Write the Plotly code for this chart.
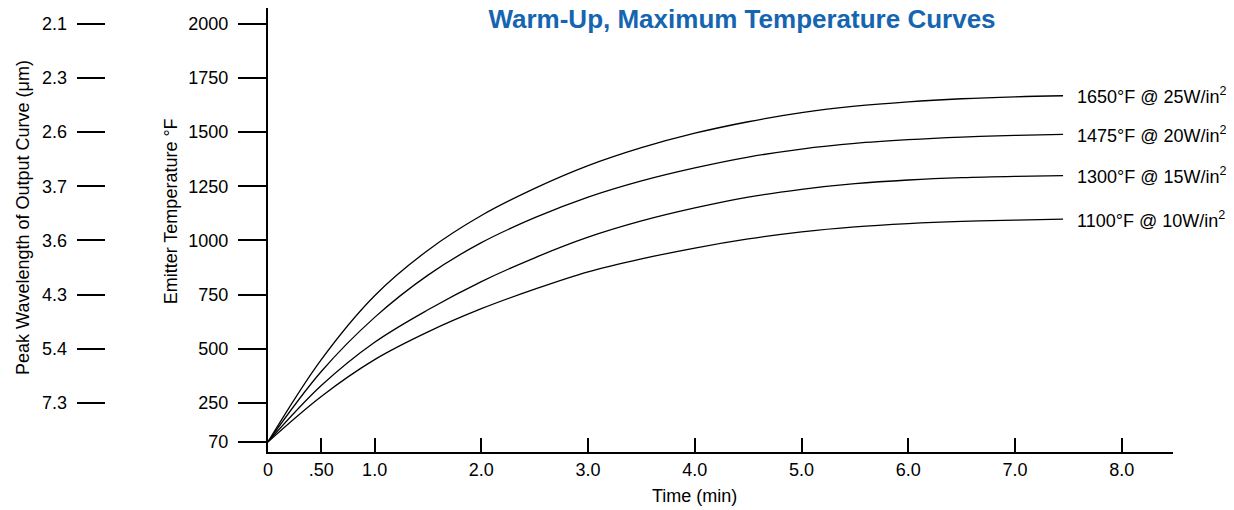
import plotly.graph_objects as go

# time (min)
time_min = [0, 0.5, 1.0, 1.5, 2.0, 2.5, 3.0, 3.5, 4.0, 4.5, 5.0, 5.5, 6.0, 6.5, 7.0, 7.45]

# emitter temperature (F)
temp_25w = [70, 450, 745, 955, 1115, 1240, 1345, 1428, 1495, 1548, 1590, 1620, 1640, 1654, 1663, 1668]
temp_20w = [70, 395, 645, 840, 990, 1105, 1200, 1275, 1335, 1385, 1422, 1448, 1465, 1477, 1485, 1490]
temp_15w = [70, 330, 530, 680, 810, 920, 1015, 1090, 1150, 1200, 1236, 1262, 1279, 1290, 1296, 1299]
temp_10w = [70, 280, 450, 578, 685, 775, 855, 915, 965, 1007, 1040, 1063, 1078, 1088, 1094, 1098]

curve_labels = [
    "1650°F @ 25W/in<sup>2</sup>",
    "1475°F @ 20W/in<sup>2</sup>",
    "1300°F @ 15W/in<sup>2</sup>",
    "1100°F @ 10W/in<sup>2</sup>",
]

temp_ticks = [70, 250, 500, 750, 1000, 1250, 1500, 1750, 2000]
wavelength_ticks = [2.1, 2.3, 2.6, 3.7, 3.6, 4.3, 5.4, 7.3]  # top to bottom
x_ticks = [0, 0.5, 1, 2, 3, 4, 5, 6, 7, 8]
x_ticktext = ["0", ".50", "1.0", "2.0", "3.0", "4.0", "5.0", "6.0", "7.0", "8.0"]

FONT = "Liberation Sans, Arial, sans-serif"
OFF = 8  # page body margin
W, H = 1234 - OFF, 510 - OFF
ML, MR, MT, MB = 0, 61, 0, 58
PW = W - ML - MR
PH = H - MT - MB
X0 = 264  # page pixel of the main y axis


def px(x):
    # page pixel -> paper x
    return (x - OFF) / PW


def py(y):
    # page pixel -> paper y
    return (H - MB - (y - OFF)) / PH


fig = go.Figure()
for series, label in zip([temp_25w, temp_20w, temp_15w, temp_10w], curve_labels):
    fig.add_trace(go.Scatter(x=time_min, y=series, mode="lines",
                             line=dict(color="black", width=1.3, shape="spline", smoothing=1.0),
                             showlegend=False, hoverinfo="skip"))
    fig.add_annotation(x=time_min[-1] + 0.11, y=series[-1], text=label, xref="x", yref="y", showarrow=False,
                       xanchor="left", yanchor="middle", font=dict(family=FONT, size=18, color="black"))

# wavelength scale sits on the temperature tick positions
fig.add_trace(go.Scatter(x=[None], y=[None], yaxis="y2", showlegend=False, hoverinfo="skip"))

axis_common = dict(showgrid=False, zeroline=False, tickfont=dict(family=FONT, size=18, color="black"))

fig.update_layout(
    width=W, height=H,
    margin=dict(l=ML, r=MR, t=MT, b=MB),
    paper_bgcolor="white", plot_bgcolor="white",
    font=dict(family=FONT, color="black"),
    title=dict(text="<b>Warm-Up, Maximum Temperature Curves</b>", x=(742 - OFF) / W, y=1 - (19 - OFF) / H,
               xanchor="center", yanchor="middle", font=dict(family=FONT, size=26, color="#1565b0")),
    xaxis=dict(domain=[px(X0), 1], range=[0, 8.48], tickvals=x_ticks, ticktext=x_ticktext,
               ticks="inside", ticklen=14, tickwidth=2, tickcolor="black", ticklabelstandoff=0,
               showline=True, linewidth=2, linecolor="black", **axis_common),
    yaxis=dict(range=[23.5, 2073], tickvals=temp_ticks, ticks="outside", ticklen=28, tickwidth=2,
               tickcolor="black", ticklabelstandoff=6,
               showline=True, linewidth=2, linecolor="black", **axis_common),
    yaxis2=dict(range=[23.5, 2073], overlaying="y", anchor="free", side="left", position=px(100),
                tickvals=temp_ticks[1:], ticktext=[str(v) for v in wavelength_ticks[::-1]],
                ticks="outside", ticklen=28, tickwidth=2, tickcolor="black", ticklabelstandoff=6,
                showline=False, **axis_common),
)

fig.add_annotation(x=4.0, y=py(496), xref="x", yref="paper", text="Time (min)", showarrow=False,
                   xanchor="center", yanchor="middle", font=dict(family=FONT, size=18, color="black"))
fig.add_annotation(x=px(167), y=py(211), xref="paper", yref="paper", text="Emitter Temperature °F",
                   showarrow=False, textangle=-90, xanchor="center", yanchor="middle",
                   font=dict(family=FONT, size=18, color="black"))
fig.add_annotation(x=px(18), y=py(217), xref="paper", yref="paper", text="Peak Wavelength of Output Curve (μm)",
                   showarrow=False, textangle=-90, xanchor="center", yanchor="middle",
                   font=dict(family=FONT, size=18, color="black"))

fig.write_html("out.html")
